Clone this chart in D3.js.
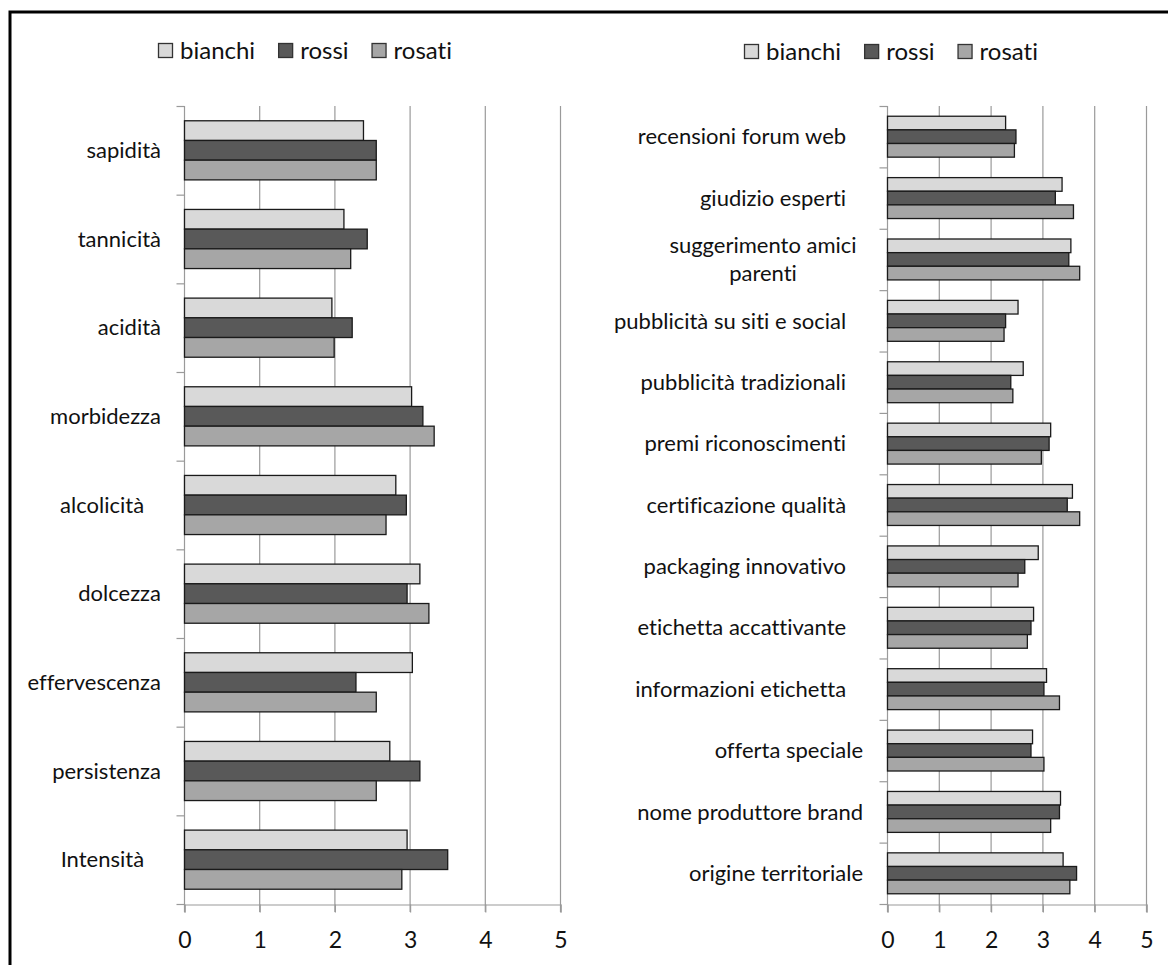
<!DOCTYPE html>
<html>
<head>
<meta charset="utf-8">
<script src="https://cdn.jsdelivr.net/npm/d3@7"></script>
<style>
  html, body { margin: 0; padding: 0; background: #fff; }
  svg { display: block; }
  text { font-family: Lato, "Open Sans", sans-serif; fill: #111; font-variant-ligatures: none; }
</style>
</head>
<body>
<svg id="chart" width="1168" height="965"></svg>
<script>
// Series names
const series = ["bianchi", "rossi", "rosati"];
const seriesColors = ["#d9d9d9", "#595959", "#a6a6a6"];

// Sensory attributes (left panel), top to bottom
const sensoryCategories = ["sapidità", "tannicità", "acidità", "morbidezza", "alcolicità   ",
  "dolcezza", "effervescenza", "persistenza", "Intensità   "];
const sensoryBianchi = [2.38, 2.12, 1.96, 3.02, 2.81, 3.13, 3.03, 2.73, 2.96];
const sensoryRossi   = [2.55, 2.43, 2.23, 3.17, 2.95, 2.96, 2.28, 3.13, 3.50];
const sensoryRosati  = [2.55, 2.21, 1.99, 3.32, 2.68, 3.25, 2.55, 2.55, 2.89];

// Purchase drivers (right panel), top to bottom
const driverCategories = ["recensioni forum web   ", "giudizio esperti   ", "suggerimento amici\nparenti",
  "pubblicità su siti e social   ", "pubblicità tradizionali   ", "premi riconoscimenti   ",
  "certificazione qualità   ", "packaging innovativo   ", "etichetta accattivante   ",
  "informazioni etichetta   ", "offerta speciale", "nome produttore brand", "origine territoriale"];
const driverBianchi = [2.28, 3.37, 3.54, 2.52, 2.62, 3.15, 3.57, 2.91, 2.82, 3.07, 2.80, 3.34, 3.39];
const driverRossi   = [2.48, 3.24, 3.50, 2.28, 2.38, 3.12, 3.47, 2.65, 2.77, 3.02, 2.77, 3.32, 3.65];
const driverRosati  = [2.45, 3.59, 3.71, 2.25, 2.42, 2.97, 3.71, 2.52, 2.70, 3.32, 3.02, 3.15, 3.52];

// Value axis
const valueDomain = [0, 5];
const valueTicks = [0, 1, 2, 3, 4, 5];

const svg = d3.select("#chart");
const FONT = 22;
const LEGEND_FONT = 24;
const gridColor = "#9a9a9a";

// Outer frame (top and left edges)
svg.append("path")
  .attr("d", "M10,965 V12 H1168")
  .attr("fill", "none").attr("stroke", "#000").attr("stroke-width", 3);

function panel(cfg) {
  const g = svg.append("g");
  const x = d3.scaleLinear().domain(valueDomain).range([cfg.x0, cfg.x1]);
  const y0 = d3.scaleBand().domain(cfg.categories).range([cfg.top, cfg.bottom]).padding(0);
  const y1 = d3.scaleBand().domain(series).range([0, y0.bandwidth()])
    .paddingInner(0).paddingOuter(0.75);
  const boundary = d3.scaleLinear().domain([0, cfg.categories.length]).range([cfg.top, cfg.bottom]);

  // vertical gridlines, running a little below the axis as tick marks
  g.append("g").selectAll("line").data(valueTicks).join("line")
    .attr("x1", d => x(d) + 0.5).attr("x2", d => x(d) + 0.5)
    .attr("y1", cfg.top).attr("y2", cfg.bottom + 8)
    .attr("stroke", gridColor).attr("stroke-width", 1.2);

  // category boundary ticks on the left axis
  const yAxis = g.append("g").attr("transform", `translate(${x(0) + 0.5},0)`)
    .call(d3.axisLeft(boundary).ticks(cfg.categories.length).tickSize(8).tickFormat(""));
  yAxis.select(".domain").remove();
  yAxis.selectAll("line").attr("stroke", gridColor).attr("stroke-width", 1.2);

  // bottom axis with numeric labels
  const xAxis = g.append("g").attr("transform", `translate(0.5,${cfg.bottom + 0.5})`)
    .call(d3.axisBottom(x).tickValues(valueTicks).tickSize(8).tickPadding(19).tickFormat(d3.format("d")));
  xAxis.select(".domain").attr("stroke", gridColor).attr("stroke-width", 1.2);
  xAxis.selectAll("line").attr("stroke", gridColor).attr("stroke-width", 1.2);
  xAxis.selectAll("text").attr("font-size", FONT + 1).attr("font-family", "Lato, sans-serif").attr("fill", "#222");

  // bars
  const rows = cfg.categories.map((c, i) => ({
    cat: c,
    vals: series.map((s, k) => ({ s, k, v: cfg.values[k][i] }))
  }));
  const groups = g.append("g").selectAll("g").data(rows).join("g")
    .attr("transform", d => `translate(0,${y0(d.cat)})`);
  groups.selectAll("rect").data(d => d.vals).join("rect")
    .attr("x", x(0) + 0.5)
    .attr("y", d => y1(d.s))
    .attr("width", d => x(d.v) - x(0))
    .attr("height", y1.bandwidth())
    .attr("fill", d => seriesColors[d.k])
    .attr("stroke", "#1a1a1a").attr("stroke-width", 1.3);

  // category labels
  const labels = g.append("g").selectAll("text").data(cfg.categories).join("text")
    .attr("font-size", FONT)
    .attr("style", "white-space: pre")
    .attr("fill", "#000");
  labels.each(function(d) {
    const lines = d.split("\n");
    const t = d3.select(this);
    const cy = y0(d) + y0.bandwidth() / 2;
    const lh = 28;
    if (lines.length === 1) {
      t.attr("text-anchor", "end").attr("x", cfg.labelX).attr("y", cy).attr("dy", "0.35em").text(d);
    } else {
      t.attr("text-anchor", "middle");
      lines.forEach((ln, i) => {
        t.append("tspan").attr("x", cfg.wrapCenter)
          .attr("y", cy + (i - (lines.length - 1) / 2) * lh).attr("dy", "0.35em").text(ln);
      });
    }
  });

  // legend
  const lg = g.append("g").attr("transform", `translate(${cfg.legendX},${cfg.legendY})`);
  let cx = 0;
  series.forEach((s, k) => {
    lg.append("rect").attr("x", cx + 0.5).attr("y", -7.5).attr("width", 14).attr("height", 14)
      .attr("fill", seriesColors[k]).attr("stroke", "#333").attr("stroke-width", 1.3);
    const t = lg.append("text").attr("x", cx + 22).attr("y", 0).attr("dy", "0.35em")
      .attr("font-size", LEGEND_FONT).attr("fill", "#111").text(s);
    cx += 22 + t.node().getComputedTextLength() + 23;
  });
}

panel({
  categories: sensoryCategories,
  values: [sensoryBianchi, sensoryRossi, sensoryRosati],
  x0: 184, x1: 560, top: 106, bottom: 904,
  labelX: 161, legendX: 158, legendY: 51
});

panel({
  categories: driverCategories,
  values: [driverBianchi, driverRossi, driverRosati],
  x0: 887, x1: 1146, top: 106, bottom: 904,
  labelX: 863, wrapCenter: 763, legendX: 744, legendY: 52
});
</script>
</body>
</html>
